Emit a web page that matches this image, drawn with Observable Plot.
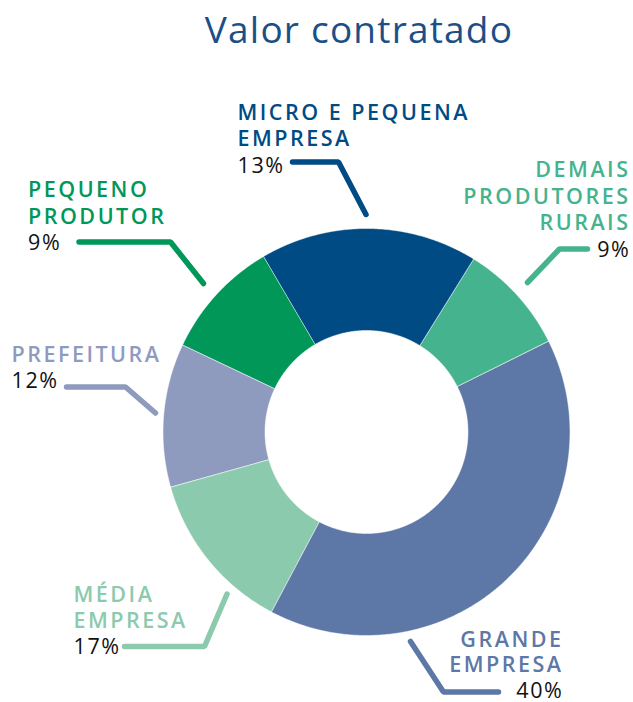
<!DOCTYPE html>
<html><head><meta charset="utf-8">
<script src="https://cdn.jsdelivr.net/npm/d3@7"></script>
<script src="https://cdn.jsdelivr.net/npm/@observablehq/plot@0.6"></script>
<style>html,body{margin:0;padding:0;background:#fff}</style>
</head><body><div id="chart"></div>
<script>
// ---- data ----
const title = "Valor contratado";
const categories = ["MICRO E PEQUENA\nEMPRESA", "DEMAIS\nPRODUTORES\nRURAIS", "GRANDE\nEMPRESA", "MÉDIA\nEMPRESA", "PREFEITURA", "PEQUENO\nPRODUTOR"];
// arc sizes as drawn in the picture (percent of the ring)
const arcShare = [17.3, 8.8, 40.1, 12.9, 11.4, 9.5];
// percentages as printed next to each label
const percentLabels = ["13%", "9%", "40%", "17%", "12%", "9%"];
const colors = ["#004b84", "#45b38d", "#5d77a7", "#8ccaad", "#8e9bbf", "#009759"];

// ---- layout ----
const W = 633, H = 702;
const cx = 366, cy = 431.5, R = 203.5, r0 = 101.5, startDeg = -30.4;
const labelLayout = [
  {x: 237,   y: 119,   step: 26.6, anchor: "start", leader: [[292, 161.5], [338, 161.5], [365.5, 214]]},
  {x: 630,   y: 176.7, step: 26.6, anchor: "end",   leader: [[587, 248.5], [559, 248.5], [527, 282]]},
  {x: 563,   y: 646,   step: 25.5, anchor: "end",   leader: [[410, 641], [443, 691.5], [498, 691.5]]},
  {x: 73,    y: 601.5, step: 26,   anchor: "start", leader: [[124, 646], [204, 646], [226.5, 593.5]]},
  {x: 11,    y: 361.5, step: 26,   anchor: "start", leader: [[66, 386.5], [125, 386.5], [155, 412.5]]},
  {x: 27.5,  y: 196.7, step: 26.6, anchor: "start", leader: [[78.5, 241.5], [170, 241.5], [203, 283]]}
];

const data = categories.map((cat, i) => ({cat, share: arcShare[i], pct: percentLabels[i], lay: labelLayout[i]}));

const a0 = startDeg * Math.PI / 180;
const arcs = d3.pie().sort(null).value(d => d.share).startAngle(a0).endAngle(a0 + 2 * Math.PI)(data);

const ringPts = arcs.flatMap(a => {
  const n = Math.max(2, Math.ceil((a.endAngle - a.startAngle) / (Math.PI / 360)));
  const pts = [];
  for (let k = 0; k <= n; k++) {
    const t = a.startAngle + (a.endAngle - a.startAngle) * k / n;
    pts.push({cat: a.data.cat, x: cx + R * Math.sin(t), y: cy - R * Math.cos(t)});
  }
  for (let k = n; k >= 0; k--) {
    const t = a.startAngle + (a.endAngle - a.startAngle) * k / n;
    pts.push({cat: a.data.cat, x: cx + r0 * Math.sin(t), y: cy - r0 * Math.cos(t)});
  }
  return pts;
});

const leaderPts = data.flatMap(d => d.lay.leader.map(([x, y]) => ({cat: d.cat, x, y})));

const nameRows = data.flatMap(d => d.cat.split("\n").map((t, j) => ({cat: d.cat, text: t, x: d.lay.x, y: d.lay.y + j * d.lay.step, anchor: d.lay.anchor})));
const pctRows = data.map(d => ({cat: d.cat, text: d.pct, x: d.lay.x, y: d.lay.y + d.cat.split("\n").length * d.lay.step, anchor: d.lay.anchor}));

const textOpts = {x: "x", y: "y", text: "text", lineAnchor: "bottom", fontSize: 21.5};

const chart = Plot.plot({
  width: W, height: H, margin: 0,
  x: {domain: [0, W], range: [0, W], axis: null},
  y: {domain: [0, H], range: [0, H], axis: null},
  color: {domain: categories, range: colors},
  style: {fontFamily: "'Open Sans', sans-serif", background: "#fff"},
  marks: [
    Plot.line(ringPts, {x: "x", y: "y", z: "cat", fill: "cat", stroke: "#fff", strokeWidth: 0.5, curve: "linear-closed"}),
    Plot.line(leaderPts, {x: "x", y: "y", z: "cat", stroke: "cat", strokeWidth: 5.5, strokeLinecap: "round", strokeLinejoin: "miter"}),
    Plot.text(nameRows.filter(d => d.anchor === "start"), {...textOpts, fill: "cat", textAnchor: "start", fontWeight: 600}),
    Plot.text(nameRows.filter(d => d.anchor === "end"), {...textOpts, fill: "cat", textAnchor: "end", fontWeight: 600}),
    Plot.text(pctRows.filter(d => d.anchor === "start"), {...textOpts, fill: "#111", textAnchor: "start"}),
    Plot.text(pctRows.filter(d => d.anchor === "end"), {...textOpts, fill: "#111", textAnchor: "end"}),
    Plot.text([title], {x: () => 358.5, y: () => 42.7, text: d => d, lineAnchor: "bottom", textAnchor: "middle", fontSize: 37, fontWeight: 400, fill: "#1b4f87"})
  ]
});
const sel = d3.select(chart).selectAll("text");
sel.style("letter-spacing", "2.5px");
sel.filter(function() { return /%$/.test(this.textContent); }).style("letter-spacing", "1.6px");
sel.filter(function() { return this.textContent === title; }).style("letter-spacing", "1.2px");
document.getElementById("chart").appendChild(chart);
</script>
</body></html>
